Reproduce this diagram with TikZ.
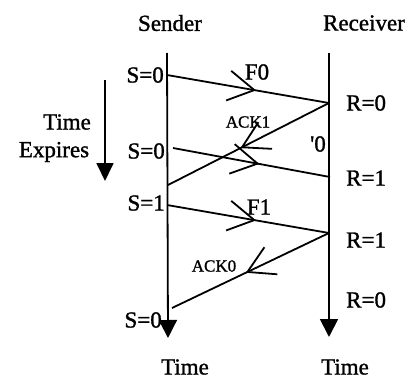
\documentclass[tikz,border=0pt]{standalone}
\usepackage{fontspec}
\setmainfont{Liberation Serif}[FakeBold=1.2,BoldFont=Liberation Serif]
\usetikzlibrary{arrows.meta,decorations.markings}
\tikzset{
  lbl/.style={inner sep=0pt,font=\fontsize{23}{26}\selectfont\bfseries},
  small/.style={inner sep=0pt,font=\fontsize{17}{20}\selectfont\bfseries},
  tline/.style={line width=1.8pt,-{Triangle[length=18pt,width=18pt]}},
  msg/.style={line width=1.8pt,postaction={decorate},
    decoration={markings,mark=at position #1 with {\arrow{Straight Barb[length=26pt,width=30pt,line width=1.8pt]}}}},
  msg/.default=0.55
}
\begin{document}
\begin{tikzpicture}[x=1pt,y=-1pt]
\useasboundingbox (0,0) rectangle (416,380);
% headers
\node[lbl] (snd) at (170,23) {Sender};
\node[lbl] (rcv) at (364,23) {Receiver};
% time lines
\coordinate (s0) at (167,53);
\coordinate (s1) at (168,338);
\coordinate (r0) at (329,53);
\coordinate (r1) at (329,337);
\draw[tline] (s0) -- (s1);
\draw[tline] (r0) -- (r1);
\node[lbl] (tS) at (185,367) {Time};
\node[lbl] (tR) at (345,367) {Time};
% time expires arrow
\coordinate (te0) at (105,80);
\coordinate (te1) at (105,181);
\draw[line width=1.8pt,-{Triangle[length=18pt,width=17pt]}] (te0) -- (te1);
\node[lbl] (tm) at (67,122) {Time};
\node[lbl] (ex) at (54,152) {Expires};
% event points
\coordinate (a) at (167,75);
\coordinate (b) at (329,103);
\coordinate (c) at (168,185);
\coordinate (d) at (173,148);
\coordinate (e) at (330,177);
\coordinate (f) at (167,205);
\coordinate (g) at (329,233);
\coordinate (h) at (172,308);
% messages
\draw[msg] (a) -- (b);
\draw[msg] (b) -- (c);
\draw[msg] (d) -- (e);
\draw[msg] (f) -- (g);
\draw[msg=0.53] (g) -- (h);
% message labels
\node[lbl] (F0) at (257,72) {F0};
\node[small] (A1) at (248,122) {ACK1};
\node[lbl] (q0) at (318,144) {\textquotesingle 0};
\node[lbl] (F1) at (259,207) {F1};
\node[small] (A0) at (214,266) {ACK0};
% state labels
\node[lbl,anchor=east] (S0a) at (164,75) {S=0};
\node[lbl,anchor=east] (S0b) at (165,151) {S=0};
\node[lbl,anchor=east] (S1) at (165,203) {S=1};
\node[lbl,anchor=east] (S0c) at (162,320) {S=0};
\node[lbl,anchor=west] (R0a) at (346,103) {R=0};
\node[lbl,anchor=west] (R1a) at (346,178) {R=1};
\node[lbl,anchor=west] (R1b) at (346,240) {R=1};
\node[lbl,anchor=west] (R0b) at (346,300) {R=0};
\end{tikzpicture}
\end{document}
